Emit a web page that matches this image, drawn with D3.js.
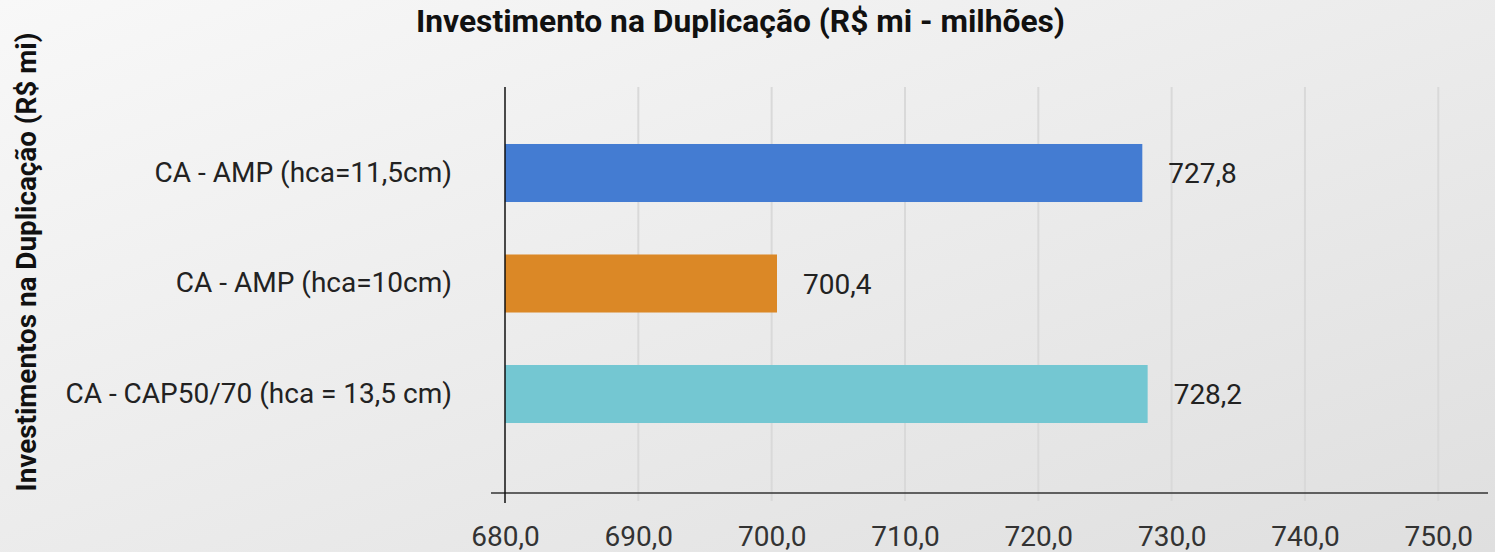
<!DOCTYPE html>
<html>
<head>
<meta charset="utf-8">
<script src="https://cdn.jsdelivr.net/npm/d3@7"></script>
<style>
  html, body { margin: 0; padding: 0; }
  body { width: 1495px; height: 552px; overflow: hidden; }
  svg text { font-family: Roboto, "Noto Sans", sans-serif; }
</style>
</head>
<body>
<svg id="chart"></svg>
<script>
// chart data
const categories = [
    "CA - AMP (hca=11,5cm)",
    "CA - AMP (hca=10cm)",
    "CA - CAP50/70 (hca = 13,5 cm)"
];
const values = [727.8, 700.4, 728.2];
const barColors = ["#447cd2", "#db8826", "#74c7d2"];
const xTicks = [680, 690, 700, 710, 720, 730, 740, 750];

const chartTitle = "Investimento na Duplicação (R$ mi - milhões)";
const yTitle = "Investimentos na Duplicação (R$ mi)";

const W = 1495, H = 552;
const margin = {top: 87, right: 7, bottom: 59, left: 505};

const svg = d3.select("#chart")
    .attr("width", W)
    .attr("height", H);

// soft diagonal background
const defs = svg.append("defs");
const grad = defs.append("linearGradient")
    .attr("id", "bg")
    .attr("x1", "0%").attr("y1", "0%")
    .attr("x2", "100%").attr("y2", "100%");
grad.append("stop").attr("offset", "0%").attr("stop-color", "#f8f8f8");
grad.append("stop").attr("offset", "100%").attr("stop-color", "#dfdfdf");

svg.append("rect")
    .attr("width", W)
    .attr("height", H)
    .attr("fill", "url(#bg)");

// scales
const x = d3.scaleLinear()
    .domain([680, 750])
    .range([margin.left, margin.left + 933.3]);

const y = d3.scaleBand()
    .domain(categories)
    .range([117.75, 449.25])
    .paddingInner(0.475)
    .paddingOuter(0.2375);

const axisY = H - margin.bottom; // 493

// grid lines (with small tick stubs below the axis)
svg.append("g")
    .selectAll("line")
    .data(xTicks.slice(1))
    .join("line")
    .attr("x1", d => x(d))
    .attr("x2", d => x(d))
    .attr("y1", margin.top)
    .attr("y2", axisY + 8)
    .attr("stroke", "#d9d9d9")
    .attr("stroke-width", 2);

// bars
svg.append("g")
    .selectAll("rect")
    .data(values)
    .join("rect")
    .attr("x", x(680))
    .attr("y", (d, i) => y(categories[i]))
    .attr("width", d => x(d) - x(680))
    .attr("height", y.bandwidth())
    .attr("fill", (d, i) => barColors[i]);

// value labels
svg.append("g")
    .selectAll("text")
    .data(values)
    .join("text")
    .attr("x", d => x(d) + 26)
    .attr("y", (d, i) => y(categories[i]) + y.bandwidth() / 2)
    .attr("dy", "0.36em")
    .attr("font-size", 28)
    .attr("fill", "#222")
    .text(d => d3.format(".1f")(d).replace(".", ","));

// x axis
const xAxis = d3.axisBottom(x)
    .tickValues(xTicks)
    .tickSize(0)
    .tickPadding(33)
    .tickFormat(d => d3.format(".1f")(d).replace(".", ","));

const gx = svg.append("g")
    .attr("transform", `translate(0,${axisY})`)
    .call(xAxis);
gx.select(".domain").remove();
gx.selectAll("text")
    .attr("font-size", 28)
    .attr("font-family", "Roboto, sans-serif")
    .attr("fill", "#333");

svg.append("line")
    .attr("x1", 491).attr("x2", 1488)
    .attr("y1", axisY).attr("y2", axisY)
    .attr("stroke", "#333")
    .attr("stroke-width", 1.5);

// y axis line
svg.append("line")
    .attr("x1", x(680)).attr("x2", x(680))
    .attr("y1", margin.top)
    .attr("y2", axisY + 10)
    .attr("stroke", "#111")
    .attr("stroke-width", 1.5);

// category labels
const yAxis = d3.axisLeft(y).tickSize(0).tickPadding(53);
const gy = svg.append("g")
    .attr("transform", `translate(${x(680)},0)`)
    .call(yAxis);
gy.select(".domain").remove();
gy.selectAll("text")
    .attr("font-size", 28)
    .attr("font-family", "Roboto, sans-serif")
    .attr("fill", "#222");

// titles
svg.append("text")
    .attr("x", 740.5)
    .attr("y", 32)
    .attr("text-anchor", "middle")
    .attr("font-size", 31)
    .attr("font-weight", "bold")
    .attr("fill", "#111")
    .attr("textLength", 649)
    .attr("lengthAdjust", "spacingAndGlyphs")
    .text(chartTitle);

svg.append("text")
    .attr("transform", "translate(36,262) rotate(-90)")
    .attr("text-anchor", "middle")
    .attr("font-size", 27)
    .attr("font-weight", "bold")
    .attr("fill", "#111")
    .attr("textLength", 459)
    .attr("lengthAdjust", "spacingAndGlyphs")
    .text(yTitle);
</script>
</body>
</html>
